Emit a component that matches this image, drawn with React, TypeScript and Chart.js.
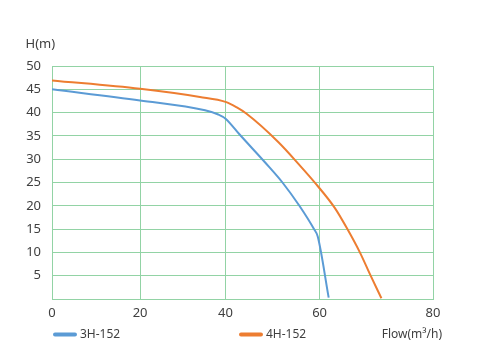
import React, { useEffect, useRef } from "react";
import { Chart, LinearScale, registerables } from "chart.js";

// ---- data ----
const SERIES_NAMES = ["3H-152", "4H-152"];
const FLOW_3H = [0, 20, 35.2, 38.3, 40, 42.9, 49.3, 52.1, 55.7, 58.8, 59.6, 61.6];
const HEAD_3H = [45.0, 42.6, 40.5, 39.6, 38.7, 35.4, 28.3, 25, 20, 15, 13.4, 0.3];
const FLOW_4H = [0, 20, 34, 40, 42.4, 44.4, 51.2, 55.5, 59.3, 62.7, 64.9, 67.1, 69.0, 70.9];
const HEAD_4H = [46.9, 45.1, 43.35, 42.3, 41.1, 39.8, 33.7, 29.0, 24.6, 19.5, 15, 10, 5, 0.15];
const X_TICKS = [0, 20, 40, 60, 80];
const Y_MIN = 0;
const Y_MAX = 50;
const Y_STEP = 5;
const Y_TITLE = "H(m)";
const X_TITLE = "Flow(m³/h)";

// ---- layout / style ----
const COLORS = ["#5b9bd5", "#ed7d31"];
const GRID = "#92d3a5";
const TEXT = "#404040";
// where each x tick sits across the plot width (the reference axis is not evenly spaced)
const X_TICK_FRACTIONS = [0, 0.2312, 0.4555, 0.7024, 1];

function valueToFraction(v: number) {
  const n = X_TICKS.length;
  if (v <= X_TICKS[0]) {
    const slope = (X_TICK_FRACTIONS[1] - X_TICK_FRACTIONS[0]) / (X_TICKS[1] - X_TICKS[0]);
    return X_TICK_FRACTIONS[0] + (v - X_TICKS[0]) * slope;
  }
  for (let i = 0; i < n - 1; i++) {
    if (v <= X_TICKS[i + 1]) {
      const t = (v - X_TICKS[i]) / (X_TICKS[i + 1] - X_TICKS[i]);
      return X_TICK_FRACTIONS[i] + t * (X_TICK_FRACTIONS[i + 1] - X_TICK_FRACTIONS[i]);
    }
  }
  const slope = (X_TICK_FRACTIONS[n - 1] - X_TICK_FRACTIONS[n - 2]) / (X_TICKS[n - 1] - X_TICKS[n - 2]);
  return X_TICK_FRACTIONS[n - 1] + (v - X_TICKS[n - 1]) * slope;
}

function fractionToValue(f: number) {
  const n = X_TICKS.length;
  for (let i = 0; i < n - 1; i++) {
    if (f <= X_TICK_FRACTIONS[i + 1] || i === n - 2) {
      const t = (f - X_TICK_FRACTIONS[i]) / (X_TICK_FRACTIONS[i + 1] - X_TICK_FRACTIONS[i]);
      return X_TICKS[i] + t * (X_TICKS[i + 1] - X_TICKS[i]);
    }
  }
  return X_TICKS[n - 1];
}

class PiecewiseScale extends LinearScale {
  static id = "piecewise";
  static defaults = LinearScale.defaults;
  getPixelForValue(value: any) {
    if (value === null || value === undefined || isNaN(value)) return NaN;
    return this.getPixelForDecimal(valueToFraction(value));
  }
  getValueForPixel(pixel: number) {
    return fractionToValue(this.getDecimalForPixel(pixel));
  }
}

Chart.register(...registerables, PiecewiseScale);

const overlayPlugin = {
  id: "overlayText",
  afterDraw(chart: any) {
    const ctx = chart.ctx;
    ctx.save();
    ctx.fillStyle = TEXT;
    ctx.textBaseline = "middle";
    ctx.textAlign = "left";
    ctx.font = '13px "Noto Sans"';
    ctx.fillText(Y_TITLE, 25.5, 44);
    ctx.font = '12px "Noto Sans"';
    const legendX = [53, 239];
    const legendY = 334.5;
    chart.data.datasets.forEach((ds: any, i: number) => {
      const x = legendX[i];
      ctx.strokeStyle = ds.borderColor;
      ctx.lineWidth = 4;
      ctx.lineCap = "round";
      ctx.beginPath();
      ctx.moveTo(x + 2, legendY);
      ctx.lineTo(x + 22, legendY);
      ctx.stroke();
      ctx.fillText(ds.label, x + 27, legendY);
    });
    ctx.textAlign = "right";
    ctx.fillText(X_TITLE, 442, legendY);
    ctx.restore();
  },
};

export default function App() {
  const ref = useRef<HTMLCanvasElement | null>(null);
  useEffect(() => {
    if (!ref.current) return;
    const makePoints = (xs: number[], ys: number[]) => xs.map((x, i) => ({ x, y: ys[i] }));
    const chart = new Chart(ref.current, {
      type: "line",
      data: {
        datasets: [
          {
            label: SERIES_NAMES[0],
            data: makePoints(FLOW_3H, HEAD_3H),
            borderColor: COLORS[0],
            backgroundColor: COLORS[0],
            borderWidth: 2,
            pointRadius: 0,
            cubicInterpolationMode: "monotone",
          },
          {
            label: SERIES_NAMES[1],
            data: makePoints(FLOW_4H, HEAD_4H),
            borderColor: COLORS[1],
            backgroundColor: COLORS[1],
            borderWidth: 2,
            pointRadius: 0,
            cubicInterpolationMode: "monotone",
          },
        ],
      },
      options: {
        animation: false,
        responsive: false,
        maintainAspectRatio: false,
        layout: { padding: { left: 0, right: 48, top: 66, bottom: 0 } },
        plugins: {
          legend: { display: false },
          title: { display: false },
          tooltip: { enabled: false },
        },
        scales: {
          x: {
            type: "piecewise" as any,
            min: X_TICKS[0],
            max: X_TICKS[X_TICKS.length - 1],
            afterBuildTicks: (scale: any) => {
              scale.ticks = X_TICKS.map((v) => ({ value: v }));
            },
            afterFit: (scale: any) => {
              scale.height = 64;
            },
            grid: { color: GRID, drawTicks: false, lineWidth: 1 },
            border: { color: GRID, width: 1 },
            ticks: {
              color: TEXT,
              font: { family: "Noto Sans", size: 13 },
              padding: 6,
              maxRotation: 0,
            },
          },
          y: {
            type: "linear",
            min: Y_MIN,
            max: Y_MAX,
            afterFit: (scale: any) => {
              scale.width = 52;
            },
            grid: { color: GRID, drawTicks: false, lineWidth: 1 },
            border: { color: GRID, width: 1 },
            ticks: {
              stepSize: Y_STEP,
              color: TEXT,
              font: { family: "Noto Sans", size: 13 },
              padding: 11,
              callback: (v: any) => (v === 0 ? "" : String(v)),
            },
          },
        },
      },
      plugins: [overlayPlugin],
    });
    return () => chart.destroy();
  }, []);
  return (
    <div style={{ position: "absolute", left: 0, top: 0, width: 481, height: 363, background: "#fff" }}>
      <canvas ref={ref} width={481} height={363} />
    </div>
  );
}
